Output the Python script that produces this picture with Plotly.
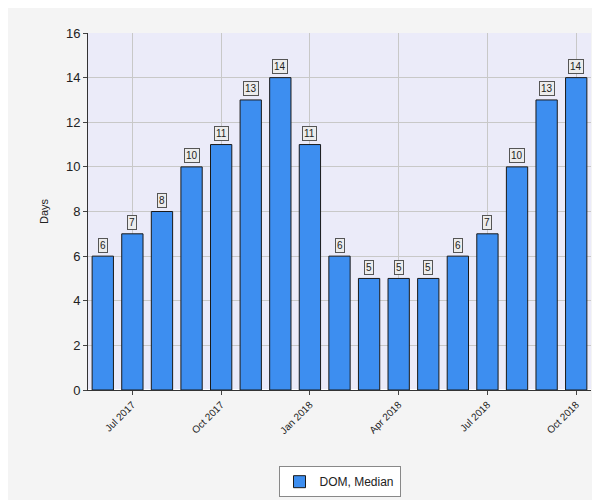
import plotly.graph_objects as go

months = ["Jun 2017", "Jul 2017", "Aug 2017", "Sep 2017", "Oct 2017", "Nov 2017",
          "Dec 2017", "Jan 2018", "Feb 2018", "Mar 2018", "Apr 2018", "May 2018",
          "Jun 2018", "Jul 2018", "Aug 2018", "Sep 2018", "Oct 2018"]
dom_median = [6, 7, 8, 10, 11, 13, 14, 11, 6, 5, 5, 5, 6, 7, 10, 13, 14]
tick_months = ["Jul 2017", "Oct 2017", "Jan 2018", "Apr 2018", "Jul 2018", "Oct 2018"]

fig = go.Figure()
fig.add_trace(go.Bar(
    x=months, y=dom_median, name="DOM, Median",
    marker=dict(color="#3d8ef0", line=dict(color="#1a1a1a", width=1)),
    width=0.72,
))

for m, v in zip(months, dom_median):
    fig.add_annotation(x=m, y=v, text=str(v), yshift=11, showarrow=False,
                       font=dict(size=10, color="#222"), bgcolor="#ececec",
                       bordercolor="#555", borderwidth=1, borderpad=1)

fig.update_layout(
    width=600, height=500,
    margin=dict(l=80, r=17, t=25, b=117),
    paper_bgcolor="#f4f4f4",
    plot_bgcolor="#ebebf9",
    font=dict(family="Liberation Sans, Arial", size=11, color="#222"),
    showlegend=True,
    legend=dict(orientation="h", x=0.5, xanchor="center", y=-0.21, yanchor="top",
                bgcolor="#ffffff", bordercolor="#888", borderwidth=1,
                font=dict(size=12)),
    bargap=0.28,
)
fig.update_xaxes(type="category", tickvals=tick_months, ticktext=tick_months,
                 tickangle=-45, showgrid=True, gridcolor="#c8c8c8",
                 showline=True, linecolor="#333", ticks="outside", ticklen=4,
                 tickfont=dict(size=10), automargin=False)
fig.update_yaxes(range=[0, 16], dtick=2, title_text="Days", showgrid=True,
                 gridcolor="#c8c8c8", showline=True, linecolor="#333",
                 ticks="outside", ticklen=4, tickfont=dict(size=13),
                 title_font=dict(size=11), automargin=False)

fig.write_html("out.html")
